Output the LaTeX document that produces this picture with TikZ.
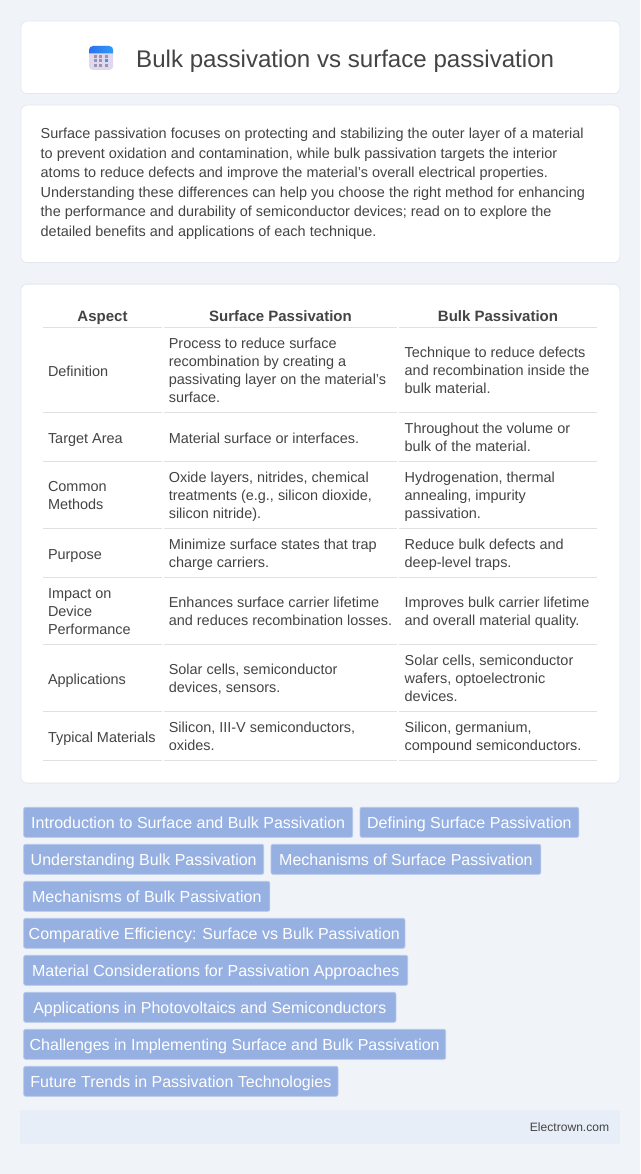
\documentclass[tikz,border=0pt]{standalone}
\usepackage{fontspec}
\setmainfont{Liberation Sans}
\usepackage{tikz}
\usetikzlibrary{positioning}
\definecolor{pagebg}{HTML}{F0F4F9}
\definecolor{cardline}{HTML}{E3E8F0}
\definecolor{ruleline}{HTML}{E0E0E0}
\definecolor{inktext}{HTML}{444444}
\definecolor{tagfill}{HTML}{96B0E2}
\definecolor{tagline}{HTML}{B4C6EA}
\definecolor{footfill}{HTML}{E8EEF8}
\definecolor{iconbody}{HTML}{E0D8EE}
\definecolor{iconleft}{HTML}{2E6FEF}
\definecolor{iconright}{HTML}{2E9CF8}
\definecolor{icondot}{HTML}{9A94B0}
\tikzstyle{card} = [draw=cardline, fill=white, rounded corners=6pt, line width=0.8pt, anchor=north west, inner sep=0pt]
\tikzstyle{cell} = [anchor=west, align=left, inner sep=0pt, text=inktext, font=\fontsize{14.45}{18}\selectfont, execute at begin node=\strut, execute at end node=\strut]
\tikzstyle{head} = [anchor=center, inner sep=0pt, text=inktext, text height=11pt, text depth=3pt, font=\fontsize{15}{18}\selectfont\bfseries]
\tikzstyle{tag} = [draw=tagline, fill=tagfill, rounded corners=2pt, line width=0.8pt, anchor=west, inner sep=0pt, minimum height=30pt, text height=15pt, text depth=3pt, text=white, font=\fontsize{16}{18}\selectfont]
\tikzstyle{rule} = [draw=ruleline, line width=1pt]
\tikzstyle{dot} = [fill=icondot, inner sep=0pt, minimum size=3pt]
\begin{document}
\begin{tikzpicture}[x=1pt, y=-1pt]
	\path [use as bounding box, fill=pagebg] (0,0) rectangle (640,1174);

	\node [card, minimum width=599pt, minimum height=72.5pt] (titlecard) at (20.5,20.7) {};
	\node [card, minimum width=599pt, minimum height=157.5pt] (introcard) at (20.5,104.7) {};
	\node [card, minimum width=599pt, minimum height=499pt] (tablecard) at (20.5,283.7) {};

	\fill [iconbody, rounded corners=4pt] (89,46) rectangle (113.2,70);
	\shade [left color=iconleft, right color=iconright, rounded corners=4pt] (89,53.3) -- (89,46) -- (113.2,46) -- (113.2,53.3);
	\node [dot] (d1) at (95.3,56.7) {};
	\node [dot] (d2) at (100.7,56.7) {};
	\node [dot] (d3) at (106.7,56.7) {};
	\node [dot] (d4) at (95.3,61) {};
	\node [dot] (d5) at (100.7,61) {};
	\node [dot, fill=iconright] (d6) at (106.7,61) {};
	\node [dot] (d7) at (95.3,65.3) {};
	\node [dot] (d8) at (100.7,65.3) {};
	\node [dot] (d9) at (106.7,65.3) {};

	\node [anchor=west, inner sep=0pt, text=inktext, text height=17pt, text depth=5pt, font=\fontsize{24.1}{28}\selectfont] (title) at (136,61.7) {Bulk passivation vs surface passivation};

	\node [cell, font=\fontsize{14.45}{19.5}\selectfont] (intro) at (40.5,185.3) {Surface passivation focuses on protecting and stabilizing the outer layer of a material\\
		to prevent oxidation and contamination, while bulk passivation targets the interior\\
		atoms to reduce defects and improve the material's overall electrical properties.\\
		Understanding these differences can help you choose the right method for enhancing\\
		the performance and durability of semiconductor devices; read on to explore the\\
		detailed benefits and applications of each technique.};

	% table head
	\node [head] (haspect) at (102.5,317) {Aspect};
	\node [head] (hsurface) at (280.5,317) {Surface Passivation};
	\node [head] (hbulk) at (498,317) {Bulk Passivation};

	% table rows
	\node [cell] (a1) at (47.8,373.2) {Definition};
	\node [cell] (s1) at (168.6,373.2) {Process to reduce surface\\recombination by creating a\\passivating layer on the material's\\surface.};
	\node [cell] (b1) at (404.5,373.2) {Technique to reduce defects\\and recombination inside the\\bulk material.};

	\node [cell] (a2) at (47.8,440.2) {Target Area};
	\node [cell] (s2) at (168.6,440.2) {Material surface or interfaces.};
	\node [cell] (b2) at (404.5,440.2) {Throughout the volume or\\bulk of the material.};

	\node [cell] (a3) at (47.8,498.2) {Common\\Methods};
	\node [cell] (s3) at (168.6,498.2) {Oxide layers, nitrides, chemical\\treatments (e.g., silicon dioxide,\\silicon nitride).};
	\node [cell] (b3) at (404.5,498.2) {Hydrogenation, thermal\\annealing, impurity\\passivation.};

	\node [cell] (a4) at (47.8,556.2) {Purpose};
	\node [cell] (s4) at (168.6,556.2) {Minimize surface states that trap\\charge carriers.};
	\node [cell] (b4) at (404.5,556.2) {Reduce bulk defects and\\deep-level traps.};

	\node [cell] (a5) at (47.8,614.2) {Impact on\\Device\\Performance};
	\node [cell] (s5) at (168.6,614.2) {Enhances surface carrier lifetime\\and reduces recombination losses.};
	\node [cell] (b5) at (404.5,614.2) {Improves bulk carrier lifetime\\and overall material quality.};

	\node [cell] (a6) at (47.8,681.2) {Applications};
	\node [cell] (s6) at (168.6,681.2) {Solar cells, semiconductor\\devices, sensors.};
	\node [cell] (b6) at (404.5,681.2) {Solar cells, semiconductor\\wafers, optoelectronic\\devices.};

	\node [cell] (a7) at (47.8,739.2) {Typical Materials};
	\node [cell] (s7) at (168.6,739.2) {Silicon, III-V semiconductors,\\oxides.};
	\node [cell] (b7) at (404.5,739.2) {Silicon, germanium,\\compound semiconductors.};

	% table rules
	\path [rule] (43,327) -- (162,327);
	\path [rule] (164,327) -- (397,327);
	\path [rule] (399,327) -- (597,327);
	\path [rule] (43,412.5) -- (162,412.5);
	\path [rule] (164,412.5) -- (397,412.5);
	\path [rule] (399,412.5) -- (597,412.5);
	\path [rule] (43,461.7) -- (162,461.7);
	\path [rule] (164,461.7) -- (397,461.7);
	\path [rule] (399,461.7) -- (597,461.7);
	\path [rule] (43,528.3) -- (162,528.3);
	\path [rule] (164,528.3) -- (397,528.3);
	\path [rule] (399,528.3) -- (597,528.3);
	\path [rule] (43,577.3) -- (162,577.3);
	\path [rule] (164,577.3) -- (397,577.3);
	\path [rule] (399,577.3) -- (597,577.3);
	\path [rule] (43,644.3) -- (162,644.3);
	\path [rule] (164,644.3) -- (397,644.3);
	\path [rule] (399,644.3) -- (597,644.3);
	\path [rule] (43,711.7) -- (162,711.7);
	\path [rule] (164,711.7) -- (397,711.7);
	\path [rule] (399,711.7) -- (597,711.7);
	\path [rule] (43,760.3) -- (162,760.3);
	\path [rule] (164,760.3) -- (397,760.3);
	\path [rule] (399,760.3) -- (597,760.3);

	% tags
	\node [tag, minimum width=329pt] (t1) at (23.3,822.3) {Introduction to Surface and Bulk Passivation};
	\node [tag, minimum width=218.8pt] (t2) at (359.6,822.3) {Defining Surface Passivation};
	\node [tag, minimum width=240pt] (t3) at (23.3,859.3) {Understanding Bulk Passivation};
	\node [tag, minimum width=269.8pt] (t4) at (270.6,859.3) {Mechanisms of Surface Passivation};
	\node [tag, minimum width=246.1pt] (t5) at (23.3,896.3) {Mechanisms of Bulk Passivation};
	\node [tag, minimum width=381.2pt] (t6) at (23.3,933.3) {Comparative Efficiency: Surface vs Bulk Passivation};
	\node [tag, minimum width=384pt] (t7) at (23.3,970.3) {Material Considerations for Passivation Approaches};
	\node [tag, minimum width=372.2pt] (t8) at (23.3,1007.3) {Applications in Photovoltaics and Semiconductors};
	\node [tag, minimum width=422pt] (t9) at (23.3,1044.3) {Challenges in Implementing Surface and Bulk Passivation};
	\node [tag, minimum width=314.3pt] (t10) at (23.3,1081.3) {Future Trends in Passivation Technologies};

	% footer
	\node [anchor=north west, fill=footfill, inner sep=0pt, minimum width=600pt, minimum height=34pt] (footer) at (20,1110) {};
	\node [anchor=east, inner sep=0pt, text=inktext, text height=9pt, text depth=3pt, font=\fontsize{12.1}{14}\selectfont] (brand) at (609.4,1128) {Electrown.com};
\end{tikzpicture}
\end{document}
